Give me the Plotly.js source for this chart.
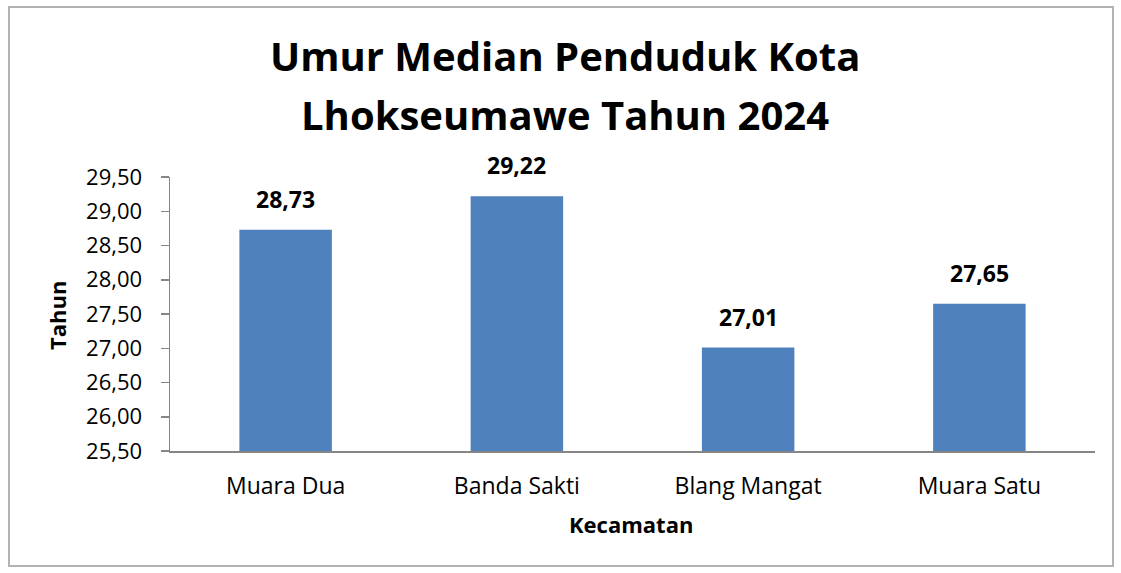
<!DOCTYPE html>
<html>
<head>
<meta charset="utf-8">
<script src="https://cdn.plot.ly/plotly-3.0.1.min.js"></script>
<style>html,body{margin:0;padding:0;background:#fff;}#chart{width:1121px;height:573px;}</style>
</head>
<body>
<div id="chart"></div>
<script>
const categories = ["Muara Dua", "Banda Sakti", "Blang Mangat", "Muara Satu"];
const values = [28.73, 29.22, 27.01, 27.65];
const tickValues = [25.5, 26, 26.5, 27, 27.5, 28, 28.5, 29, 29.5];
const titleLines = ["Umur Median Penduduk Kota", "Lhokseumawe Tahun 2024"];

const FONT = "'Open Sans', sans-serif";
const fmt = v => v.toFixed(2).replace('.', ',');

const W = 1121, H = 573, L = 170, R = 26, T = 177, B = 122;
const pw = W - L - R, ph = H - T - B;
const px = x => (x - L) / pw;
const py = y => (H - B - y) / ph;
const FLOOR = 25.5;

const trace = {
  type: 'bar',
  x: categories,
  y: values.map(v => v - FLOOR),
  base: FLOOR,
  width: 0.4,
  marker: {color: '#4f81bd'},
  hoverinfo: 'skip'
};

const annotations = categories.map((c, i) => ({
  x: c, y: values[i], xref: 'x', yref: 'y',
  text: '<b>' + fmt(values[i]) + '</b>',
  showarrow: false, yanchor: 'bottom', yshift: 13,
  font: {family: FONT, size: 23, color: '#000'}
}));
[55, 114].forEach((yc, i) => annotations.push({
  x: px(565), xref: 'paper', xanchor: 'center',
  y: py(yc), yref: 'paper', yanchor: 'middle',
  text: '<b>' + titleLines[i] + '</b>', showarrow: false,
  font: {family: FONT, size: 40, color: '#000'}
}));
annotations.push({
  x: px(57), xref: 'paper', xanchor: 'center',
  y: py(316), yref: 'paper', yanchor: 'middle', textangle: -90,
  text: '<b>Tahun</b>', showarrow: false,
  font: {family: FONT, size: 22, color: '#000'}
});
annotations.push({
  x: px(631), xref: 'paper', xanchor: 'center',
  y: py(524), yref: 'paper', yanchor: 'middle',
  text: '<b>Kecamatan</b>', showarrow: false,
  font: {family: FONT, size: 22, color: '#000'}
});

const layout = {
  width: W, height: H,
  margin: {l: L, r: R, t: T, b: B},
  paper_bgcolor: '#fff', plot_bgcolor: '#fff',
  separators: ',.',
  showlegend: false,
  xaxis: {
    type: 'category',
    showline: true, linecolor: '#868686', linewidth: 1.5,
    ticks: '', showgrid: false,
    ticklabelstandoff: 14,
    tickfont: {family: FONT, size: 23, color: '#000'}
  },
  yaxis: {
    range: [25.5, 29.5],
    tickvals: tickValues,
    ticktext: tickValues.map(fmt),
    showline: true, linecolor: '#868686', linewidth: 1.5,
    ticks: 'outside', ticklen: 8, tickcolor: '#868686', tickwidth: 1.5,
    showgrid: false, zeroline: false,
    ticklabelstandoff: 14,
    tickfont: {family: FONT, size: 22, color: '#000'}
  },
  annotations: annotations,
  shapes: [{
    type: 'rect', xref: 'paper', yref: 'paper',
    x0: px(9), x1: px(1113), y0: py(566), y1: py(7),
    line: {color: '#b3b3b3', width: 2}, fillcolor: 'rgba(0,0,0,0)', layer: 'below'
  }]
};

Plotly.newPlot('chart', [trace], layout, {displayModeBar: false, staticPlot: true});
</script>
</body>
</html>
